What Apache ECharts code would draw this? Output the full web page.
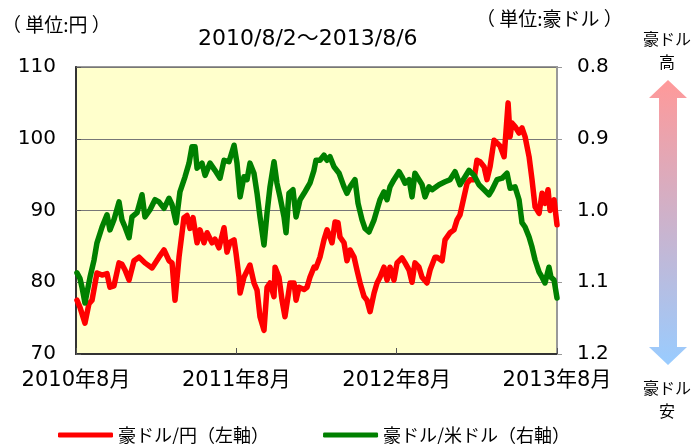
<!DOCTYPE html>
<html>
<head>
<meta charset="utf-8">
<script src="https://cdn.jsdelivr.net/npm/echarts@6/dist/echarts.min.js"></script>
<style>
  html, body { margin: 0; padding: 0; background: #fff; }
  #main { width: 694px; height: 444px; }
</style>
</head>
<body>
<div id="main"></div>
<script>
// months since 2010/8 on the x axis
var audJpyMonths = [0.07, 0.30, 0.67, 0.97, 1.20, 1.57, 1.95, 2.32, 2.54, 2.84, 3.22, 3.44, 3.67, 3.97, 4.34, 4.72,
  5.16, 5.69, 6.21, 6.59, 6.96, 7.19, 7.41, 7.71, 8.08, 8.31, 8.53, 8.76, 9.06, 9.28, 9.58, 9.81, 10.18, 10.40,
  10.70, 11.08, 11.30, 11.53, 11.83, 11.98, 12.20, 12.28, 12.57, 13.02, 13.32, 13.55, 13.77, 14.07, 14.30, 14.52,
  14.82, 14.90, 15.19, 15.42, 15.64, 16.02, 16.32, 16.47, 16.69, 17.07, 17.29, 17.51, 17.81, 17.96, 18.26, 18.56,
  18.79, 19.01, 19.16, 19.39, 19.61, 19.76, 20.06, 20.28, 20.51, 20.81, 21.03, 21.26, 21.56, 21.78, 22.01, 22.31,
  22.53, 22.75, 23.05, 23.28, 23.50, 23.80, 24.03, 24.40, 24.63, 24.93, 25.15, 25.37, 25.67, 25.90, 26.27, 26.50,
  26.87, 27.02, 27.40, 27.62, 27.99, 28.29, 28.52, 28.74, 29.04, 29.27, 29.49, 29.79, 30.01, 30.24, 30.54, 30.76,
  30.99, 31.29, 31.51, 31.74, 32.04, 32.19, 32.34, 32.49, 32.63, 32.86, 33.16, 33.38, 33.61, 33.91, 34.13, 34.36,
  34.66, 34.88, 35.10, 35.33, 35.48, 35.78, 36.00];
var audJpy = [77.5, 76.5, 74.3, 77, 77.5, 81.3, 81, 81.2, 79.3, 79.5, 82.7, 82.5, 81.7, 80.3, 83, 83.5,
  82.7, 82, 83.5, 84.5, 83, 82.7, 77.5, 83.5, 89, 89.3, 87.5, 89, 85.5, 87.3, 85.5, 86.9, 85.5, 86,
  84.8, 87.6, 84.2, 85.6, 85.9, 84, 80.7, 78.5, 80.7, 82.4, 79.9, 78.9, 75.2, 73.3, 79.3, 79.9,
  78, 82.1, 80.7, 77.5, 75.2, 79.9, 79.9, 77.5, 79.3, 79, 79.3, 80.7, 82.1, 82, 83.5, 85.9,
  87.3, 86.3, 85.5, 88.4, 88.3, 86.3, 85.5, 83, 84.5, 83.5, 81.7, 79.9, 78, 77.5, 75.9, 78.5,
  79.9, 80.7, 82.1, 80.3, 82.1, 80.3, 82.7, 83.4, 82.7, 81.7, 80, 82.7, 82.1, 80.7, 79.9, 81.7,
  83.5, 83.5, 83, 85.9, 86.9, 87.3, 88.7, 89.4, 91.9, 93.8, 94.3, 94.3, 97, 96.8, 96.1, 94.3,
  96.1, 99.8, 99.4, 99, 97.5, 101.2, 105, 100.3, 102.2, 101.7, 100.8, 101.5, 100.3, 97.5, 94.3, 90.5,
  89.6, 92.4, 91, 92.9, 90, 91.5, 88];

var audUsdMonths = [0.07, 0.30, 0.45, 0.67, 1.05, 1.35, 1.57, 1.95, 2.32, 2.54, 2.84, 3.22, 3.44, 3.67, 3.97, 4.19,
  4.57, 4.94, 5.16, 5.54, 5.91, 6.21, 6.59, 6.96, 7.19, 7.49, 7.78, 8.16, 8.46, 8.68, 8.91, 9.06, 9.43, 9.66,
  10.03, 10.40, 10.78, 11.08, 11.45, 11.83, 12.05, 12.28, 12.57, 12.80, 13.02, 13.32, 13.55, 13.77, 14.07, 14.30,
  14.52, 14.82, 15.04, 15.27, 15.57, 15.72, 15.94, 16.24, 16.47, 16.77, 17.07, 17.29, 17.51, 17.81, 17.96, 18.26,
  18.56, 18.79, 19.01, 19.31, 19.69, 20.06, 20.28, 20.51, 20.88, 21.11, 21.41, 21.63, 21.93, 22.31, 22.53, 22.75,
  23.05, 23.28, 23.50, 23.80, 24.18, 24.40, 24.63, 24.93, 25.15, 25.37, 25.67, 25.90, 26.12, 26.42, 26.65, 27.17,
  27.62, 27.99, 28.37, 28.74, 29.12, 29.42, 29.79, 30.16, 30.54, 30.91, 31.14, 31.51, 31.89, 32.26, 32.49, 32.86,
  33.16, 33.38, 33.61, 33.91, 34.13, 34.36, 34.66, 34.88, 35.10, 35.40, 35.55, 35.78, 36.00];
var audUsd = [1.087, 1.095, 1.107, 1.129, 1.093, 1.069, 1.045, 1.023, 1.006, 1.027, 1.013, 0.988, 1.013, 1.023, 1.038, 1.009,
  1.003, 0.978, 1.009, 0.999, 0.985, 0.988, 0.997, 0.983, 0.992, 1.017, 0.974, 0.953, 0.934, 0.911, 0.911, 0.941, 0.934, 0.951,
  0.934, 0.944, 0.955, 0.930, 0.932, 0.909, 0.934, 0.981, 0.953, 0.957, 0.934, 0.948, 0.976, 1.009, 1.048, 1.003,
  0.967, 0.932, 0.962, 0.981, 1.009, 1.031, 0.976, 0.971, 1.009, 0.985, 0.976, 0.969, 0.962, 0.944, 0.930, 0.930,
  0.923, 0.930, 0.925, 0.939, 0.948, 0.967, 0.976, 0.967, 0.957, 0.990, 1.013, 1.025, 1.030, 1.013, 0.999, 0.985,
  0.974, 0.985, 0.967, 0.957, 0.946, 0.953, 0.962, 0.957, 0.981, 0.948, 0.957, 0.964, 0.981, 0.967, 0.971, 0.964,
  0.960, 0.957, 0.946, 0.964, 0.953, 0.944, 0.951, 0.964, 0.971, 0.978, 0.971, 0.957, 0.955, 0.948, 0.969, 0.967,
  0.985, 1.017, 1.023, 1.037, 1.051, 1.069, 1.086, 1.093, 1.101, 1.079, 1.093, 1.097, 1.122];

var seriesNames = ['豪ドル/円（左軸）', '豪ドル/米ドル（右軸）'];
var titleText = '2010/8/2～2013/8/6';

const LATIN = '"DejaVu Sans", "Noto Sans CJK JP", sans-serif';
const CJK = 'Noto Sans CJK JP';

function pairs(xs, ys) {
  return xs.map((x, i) => [x, ys[i]]);
}

function label(opts, text, size) {
  // plain text block outside the grid
  return Object.assign({
    type: 'text',
    style: { text: text, fontFamily: CJK, fontSize: size, fill: '#000' }
  }, opts);
}

var option = {
  animation: false,
  backgroundColor: '#fff',
  title: {
    text: titleText,
    left: 193,
    top: 23,
    textStyle: { fontFamily: LATIN, fontSize: 22, fontWeight: 'normal', color: '#000' }
  },
  legend: {
    data: seriesNames,
    left: 53,
    top: 421,
    icon: 'roundRect',
    itemWidth: 55,
    itemHeight: 5,
    itemGap: 54,
    textStyle: { fontFamily: CJK, fontSize: 18, color: '#000' }
  },
  grid: {
    left: 76,
    right: 137,
    top: 67,
    bottom: 90,
    show: true,
    backgroundColor: '#FFFFCC',
    borderColor: '#999',
    borderWidth: 2
  },
  xAxis: {
    type: 'value',
    min: 0,
    max: 36,
    interval: 12,
    axisLine: { lineStyle: { color: '#333', width: 2 } },
    axisTick: { inside: true, length: 6, lineStyle: { color: '#555' } },
    splitLine: { show: false },
    axisLabel: {
      margin: 16,
      fontFamily: LATIN,
      fontSize: 21,
      color: '#000',
      formatter: v => (2010 + v / 12) + '年8月'
    }
  },
  yAxis: [
    {
      type: 'value',
      min: 70,
      max: 110,
      interval: 10,
      axisLine: { show: true, lineStyle: { color: '#333', width: 2 } },
      axisTick: { show: true, inside: true, length: 5, lineStyle: { color: '#555' } },
      splitLine: { lineStyle: { color: '#777', width: 1 } },
      axisLabel: { margin: 20, fontFamily: LATIN, fontSize: 20, color: '#000' }
    },
    {
      type: 'value',
      position: 'right',
      inverse: true,
      min: 0.8,
      max: 1.2,
      interval: 0.1,
      axisLine: { show: true, lineStyle: { color: '#999', width: 2 } },
      axisTick: { show: true, length: 5, lineStyle: { color: '#999' } },
      splitLine: { show: false },
      axisLabel: {
        margin: 20,
        fontFamily: LATIN,
        fontSize: 20,
        color: '#000',
        formatter: v => v.toFixed(1)
      }
    }
  ],
  series: [
    {
      name: seriesNames[0],
      type: 'line',
      yAxisIndex: 0,
      showSymbol: false,
      symbol: 'none',
      color: '#FF0000',
      lineStyle: { width: 5.5, color: '#FF0000', join: 'round', cap: 'round' },
      data: pairs(audJpyMonths, audJpy)
    },
    {
      name: seriesNames[1],
      type: 'line',
      yAxisIndex: 1,
      showSymbol: false,
      symbol: 'none',
      color: '#008000',
      lineStyle: { width: 5.5, color: '#008000', join: 'round', cap: 'round' },
      data: pairs(audUsdMonths, audUsd)
    }
  ],
  graphic: [
    label({ left: 2, top: 15 }, '（ 単位:円 ）', 19),
    label({ left: 476, top: 9 }, '（ 単位:豪ドル ）', 19),
    {
      type: 'text', x: 667, y: 27,
      style: { text: '豪ドル\n高', fontFamily: CJK, fontSize: 16, fill: '#000', align: 'center', lineHeight: 23 }
    },
    {
      type: 'text', x: 667, y: 376,
      style: { text: '豪ドル\n安', fontFamily: CJK, fontSize: 16, fill: '#000', align: 'center', lineHeight: 23 }
    },
    {
      type: 'polygon',
      shape: {
        points: [[668, 80], [687, 98], [677, 98], [677, 347], [687, 347], [668, 365],
          [649, 347], [659, 347], [659, 98], [649, 98]]
      },
      style: {
        fill: new echarts.graphic.LinearGradient(0, 0, 0, 1, [
          { offset: 0, color: '#FF9999' },
          { offset: 1, color: '#99CCFF' }
        ])
      }
    }
  ]
};

var mainChart = echarts.init(document.getElementById('main'));
mainChart.setOption(option);
</script>
</body>
</html>
